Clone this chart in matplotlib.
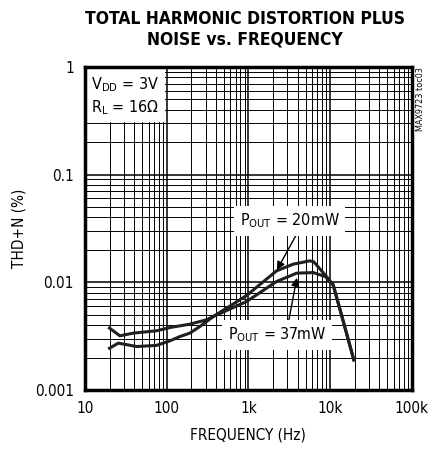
import numpy as np
import matplotlib
matplotlib.use("Agg")
import matplotlib.pyplot as plt
from matplotlib.ticker import LogLocator, FixedLocator, FixedFormatter, NullFormatter

# =====================
# Дані
# =====================
freq_20mw = [20, 25.6, 43, 75, 110, 145, 192, 255, 371, 950, 2210, 3540, 5650, 6300, 9040, 10900, 14500, 19500]
thd_20mw = [0.00244, 0.00272, 0.00253, 0.00259, 0.00286, 0.00313, 0.00337, 0.00388, 0.0048,
            0.00753, 0.01276, 0.01472, 0.0158, 0.0155, 0.0113, 0.00946, 0.00432, 0.0019]

freq_37mw = [20, 26.8, 39, 75, 110, 192, 308, 371, 950, 2210, 3890, 6210, 8700, 10900, 14500, 19500]
thd_37mw = [0.00375, 0.00318, 0.00337, 0.00354, 0.0038, 0.00408, 0.00448, 0.0048,
            0.00662, 0.01016, 0.01214, 0.0123, 0.0113, 0.00946, 0.00432, 0.0019]

x_ticks = [10, 100, 1e3, 1e4, 1e5]
x_labels = ["10", "100", "1k", "10k", "100k"]
y_ticks = [0.001, 0.01, 0.1, 1]
y_labels = ["0.001", "0.01", "0.1", "1"]

plt.rcParams["font.family"] = ["DejaVu Sans"]
plt.rcParams["font.stretch"] = "condensed"
plt.rcParams["mathtext.fontset"] = "custom"
plt.rcParams["mathtext.rm"] = "DejaVu Sans:stretch=condensed"

fig = plt.figure(figsize=(4.4, 4.55), dpi=100)
ax = fig.add_axes([0.193, 0.143, 0.743, 0.710])

ax.plot(freq_20mw, thd_20mw, color="#231f20", lw=2.2, zorder=4)
ax.plot(freq_37mw, thd_37mw, color="#231f20", lw=2.2, zorder=4)

ax.set_xscale("log")
ax.set_yscale("log")
ax.set_xlim(10, 1e5)
ax.set_ylim(0.001, 1)

ax.xaxis.set_major_locator(FixedLocator(x_ticks))
ax.xaxis.set_major_formatter(FixedFormatter(x_labels))
ax.yaxis.set_major_locator(FixedLocator(y_ticks))
ax.yaxis.set_major_formatter(FixedFormatter(y_labels))
ax.xaxis.set_minor_locator(LogLocator(base=10, subs=np.arange(2, 10)))
ax.yaxis.set_minor_locator(LogLocator(base=10, subs=np.arange(2, 10)))
ax.xaxis.set_minor_formatter(NullFormatter())
ax.yaxis.set_minor_formatter(NullFormatter())

ax.grid(which="major", color="black", lw=1.1)
ax.grid(which="minor", color="black", lw=0.7)
ax.set_axisbelow(True)
ax.tick_params(which="both", length=0, labelsize=11, pad=8)

for sp in ax.spines.values():
    sp.set_linewidth(2.5)
    sp.set_zorder(8)

ax.set_xlabel("FREQUENCY (Hz)", fontsize=11, labelpad=8)
ax.set_ylabel("THD+N (%)", fontsize=11, labelpad=6)

fig.text(0.557, 0.935, "TOTAL HARMONIC DISTORTION PLUS\nNOISE vs. FREQUENCY",
         ha="center", va="center", fontsize=12.5, fontweight="heavy", linespacing=1.2)

ax.text(0.02, 0.975, "V$_{\\mathrm{DD}}$ = 3V\nR$_{\\mathrm{L}}$ = 16$\\Omega$",
        transform=ax.transAxes, ha="left", va="top", fontsize=11.5, zorder=6, linespacing=1.3,
        bbox=dict(facecolor="white", edgecolor="none", pad=4))

ax.text(3220, 0.0372, "P$_{\\mathrm{OUT}}$ = 20mW", ha="center", va="center", fontsize=11.5, zorder=6,
        bbox=dict(facecolor="white", edgecolor="none", pad=4))
ax.text(2235, 0.00325, "P$_{\\mathrm{OUT}}$ = 37mW", ha="center", va="center", fontsize=11.5, zorder=6,
        bbox=dict(facecolor="white", edgecolor="none", pad=4))

arrow = dict(arrowstyle="-|>", color="black", lw=1, shrinkA=0, shrinkB=0, mutation_scale=12)
ax.annotate("", xy=(2235, 0.013), xytext=(4100, 0.030), arrowprops=arrow, zorder=5)
ax.annotate("", xy=(3920, 0.011), xytext=(3040, 0.0040), arrowprops=arrow, zorder=5)

fig.text(0.955, 0.853, "MAX9723 toc03", rotation=90, ha="center", va="top", fontsize=6.5)

fig.savefig("out.png", dpi=100)
